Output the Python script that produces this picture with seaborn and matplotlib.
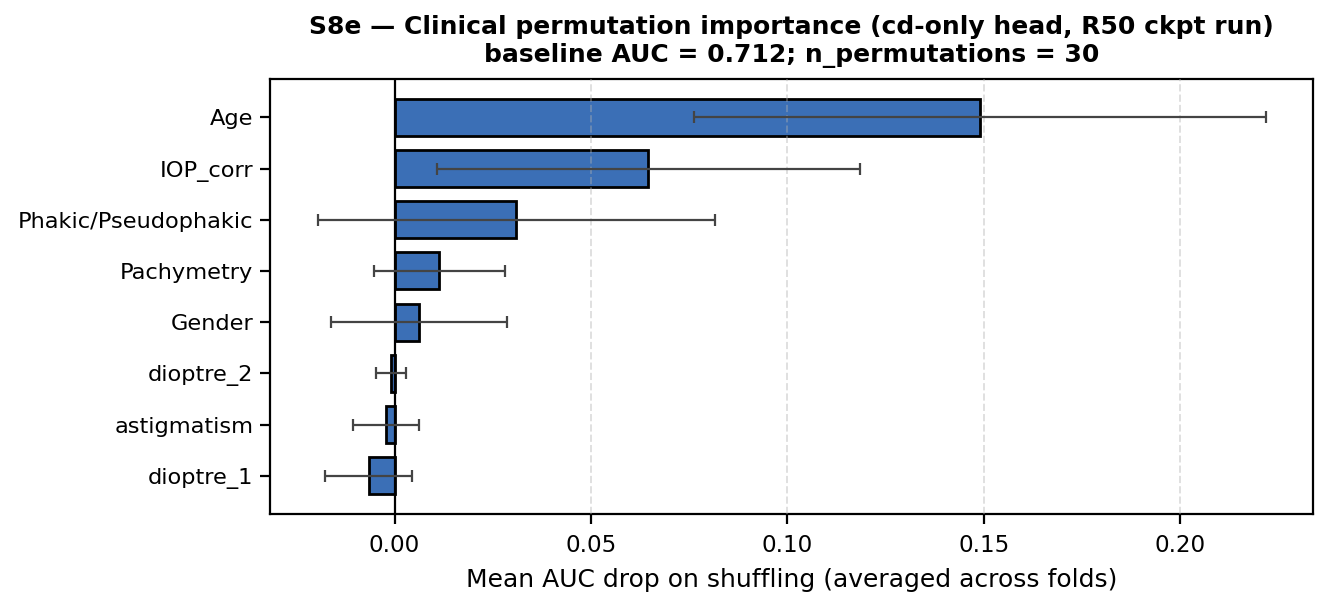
import numpy as np
import pandas as pd
import matplotlib
matplotlib.use("Agg")
import matplotlib.pyplot as plt
import seaborn as sns

# Clinical permutation importance
features = ["Age", "IOP_corr", "Phakic/Pseudophakic", "Pachymetry",
            "Gender", "dioptre_2", "astigmatism", "dioptre_1"]
mean_drop = [0.149, 0.0646, 0.0310, 0.0114, 0.0061, -0.0010, -0.0023, -0.0066]
std_drop = [0.0727, 0.0538, 0.0506, 0.0167, 0.0224, 0.0038, 0.0084, 0.0111]

baseline_auc = 0.712
n_permutations = 30

df = pd.DataFrame({"feature": features, "mean": mean_drop, "std": std_drop})

fig, ax = plt.subplots(figsize=(6.655, 3.035), dpi=200)

sns.barplot(data=df, x="mean", y="feature", orient="h", color="#3B6FB6",
            saturation=1, width=0.72, edgecolor="black", linewidth=1.0,
            errorbar=None, ax=ax)
ax.errorbar(df["mean"], np.arange(len(df)), xerr=df["std"], fmt="none",
            ecolor="#444444", elinewidth=0.8, capsize=2, capthick=0.8, zorder=4)

ax.axvline(0, color="black", linewidth=0.8, zorder=3)
ax.grid(axis="x", linestyle="--", alpha=0.4, linewidth=0.7)
ax.set_axisbelow(False)
ax.margins(x=0.05)
ax.autoscale(axis="x")
ax.set_ylim(len(df) - 0.25, -0.75)

ax.set_xlabel("Mean AUC drop on shuffling (averaged across folds)", fontsize=9)
ax.set_ylabel("")
ax.tick_params(axis="y", labelsize=8.1, pad=2.5)
ax.tick_params(axis="x", labelsize=8.3)
ax.set_title("S8e \u2014 Clinical permutation importance (cd-only head, R50 ckpt run)\n"
             f"baseline AUC = {baseline_auc}; n_permutations = {n_permutations}",
             fontsize=9, fontweight="bold")

fig.subplots_adjust(left=0.203, right=0.9865, top=0.87, bottom=0.153)
fig.savefig("out.png", dpi=200)
plt.close(fig)
